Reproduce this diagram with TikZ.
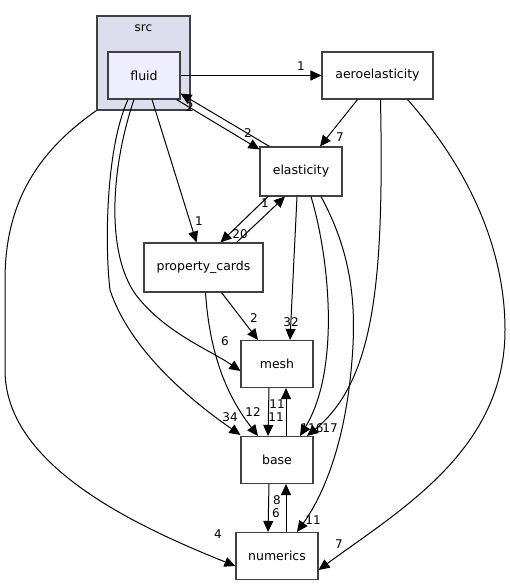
\documentclass[tikz,border=0pt]{standalone}
\usepackage{fontspec}
\setmainfont{DejaVu Sans}
\usepackage{tikz}
\usetikzlibrary{arrows.meta}

\begin{document}
\begin{tikzpicture}
          [x = 1pt, y = -1pt, >= {Triangle[length=11pt, width=10pt]},
           dir/.style = {draw = black!75, line width = 1.1pt, fill = white,
                         minimum height = 47pt, inner sep = 0pt,
                         font = \fontsize{12.5}{14}\selectfont},
           lbl/.style = {inner sep = 0pt, font = \fontsize{12}{14}\selectfont},
           edge/.style = {->, line width = 1pt}]
          \useasboundingbox (0,0) rectangle (509,585);
          % the src folder
          \node[draw = black!75, line width = 1.1pt, fill = {rgb,255:red,221;green,221;blue,238},
                minimum width = 93pt, minimum height = 94pt, inner sep = 0pt] (src) at (143.5,63) {};
          \node[font = \fontsize{12}{14}\selectfont] (srcname) at (143.5,28) {src};
          \node[dir, fill = {rgb,255:red,238;green,238;blue,255}, minimum width = 72pt] (fluid) at (144,75.5) {fluid};
          \node[dir, minimum width = 111pt] (aero) at (377.5,75.5) {aeroelasticity};
          \node[dir, minimum width = 82pt, minimum height = 49pt] (elas) at (301,171.5) {elasticity};
          \node[dir, minimum width = 119pt, minimum height = 49pt] (prop) at (203.5,267.5) {property\_cards};
          \node[dir, minimum width = 72pt] (mesh) at (277,364) {mesh};
          \node[dir, minimum width = 72pt] (base) at (277,460) {base};
          \node[dir, minimum width = 82pt] (num) at (277,556) {numerics};
          % from fluid
          \draw[edge] (fluid.east) -- (aero.west);
          \node[lbl] (l1) at (301,66) {1};
          \draw[edge] ([xshift=-4]fluid.south east) -- ([yshift=-3]elas.north west);
          \node[lbl] (l2) at (248,133) {2};
          \draw[edge] ([xshift=10]elas.north west) -- ([yshift=6]fluid.south east);
          \node[lbl] (l3) at (190,107) {2};
          \draw[edge] ([xshift=8]fluid.south) -- ([xshift=-7]prop.north);
          \node[lbl] (l4) at (199,221) {1};
          \draw[edge] ([xshift=-10]fluid.south) .. controls (110,170) and (105,260) .. (140,300)
                      .. controls (170,335) and (210,350) .. ([yshift=-7]mesh.west);
          \node[lbl] (l5) at (225,341) {6};
          \draw[edge] ([xshift=-16]fluid.south) .. controls (105,150) and (105,250) .. (110,290)
                      .. controls (130,350) and (190,400) .. ([yshift=1]base.north west);
          \node[lbl] (l6) at (230,417) {34};
          \draw[edge] (src.south west) .. controls (40,150) and (5,200) .. (5,280) -- (5,370)
                      .. controls (5,460) and (120,520) .. ([yshift=-10]num.west);
          \node[lbl] (l7) at (218,534) {4};
          % from aeroelasticity
          \draw[edge] ([xshift=-20]aero.south) -- ([xshift=19]elas.north);
          \node[lbl] (l8) at (340,137) {7};
          \draw[edge] ([xshift=3]aero.south) .. controls (384,280) and (375,380) .. ([xshift=30]base.north);
          \node[lbl] (l9) at (330,428) {17};
          \draw[edge] ([xshift=30]aero.south) .. controls (470,170) and (505,250) .. (505,330)
                      .. controls (505,450) and (400,510) .. ([yshift=-14]num.east);
          \node[lbl] (l10) at (339,544) {7};
          % from elasticity
          \draw[edge] ([xshift=-33]elas.south) -- ([xshift=17]prop.north);
          \node[lbl] (l11) at (240,234) {20};
          \draw[edge] ([xshift=33]prop.north) -- ([xshift=-16]elas.south);
          \node[lbl] (l12) at (265,203) {1};
          \draw[edge] ([xshift=-4]elas.south) -- ([xshift=13]mesh.north);
          \node[lbl] (l13) at (291,322) {32};
          \draw[edge] ([xshift=10]elas.south) .. controls (330,260) and (340,370) .. ([xshift=23]base.north);
          \node[lbl] (l14) at (312,428) {116};
          \draw[edge] ([xshift=20]elas.south) .. controls (350,250) and (357,300) .. (352,360)
                      .. controls (345,450) and (320,500) .. ([xshift=20]num.north);
          \node[lbl] (l15) at (313,520) {11};
          % property_cards, mesh, base
          \draw[edge] ([xshift=18]prop.south) -- ([xshift=-19]mesh.north);
          \node[lbl] (l16) at (254,318) {2};
          \draw[edge] ([xshift=2]prop.south) .. controls (210,360) and (230,400) .. ([xshift=-19]base.north);
          \node[lbl] (l17) at (253,412) {12};
          \draw[edge] ([xshift=-8]mesh.south) -- ([xshift=-9]base.north);
          \node[lbl] (l18) at (276,417) {11};
          \draw[edge] ([xshift=9]base.north) -- ([xshift=9]mesh.south);
          \node[lbl] (l19) at (277,404) {11};
          \draw[edge] ([xshift=-8]base.south) -- ([xshift=-9]num.north);
          \node[lbl] (l20) at (276,513) {6};
          \draw[edge] ([xshift=9]num.north) -- ([xshift=9]base.south);
          \node[lbl] (l21) at (277,500) {8};
        \end{tikzpicture}
\end{document}
